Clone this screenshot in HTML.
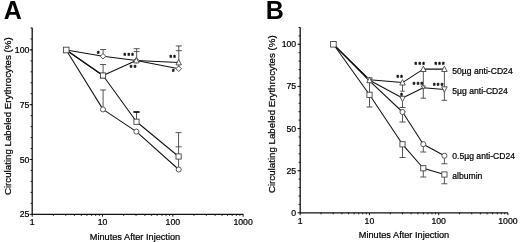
<!DOCTYPE html>
<html><head><meta charset="utf-8"><title>Figure</title>
<style>
html,body{margin:0;padding:0;background:#fff;}
body{width:520px;height:242px;overflow:hidden;}
svg{display:block;}
text{font-family:"Liberation Sans",Arial,Helvetica,sans-serif;fill:#000;stroke:#000;stroke-width:0.22px;}
.tk{font-size:8.7px;}
.lg{font-size:8.6px;}
.xl{font-size:9.2px;}
.yl{font-size:9.72px;}
.pl{font-size:25px;font-weight:bold;fill:#000;stroke:none;}
.ax{stroke:#111;stroke-width:1.3;fill:none;}
.t{stroke:#111;stroke-width:1;fill:none;}
.ln{stroke:#111;stroke-width:1.05;fill:none;stroke-linejoin:round;}
.eb{stroke:#444;stroke-width:0.9;fill:none;}
.mk{stroke:#444;stroke-width:0.9;fill:#fff;}
.st{font-size:6.5px;font-weight:bold;fill:#000;stroke:#000;stroke-width:0.35px;letter-spacing:1.32px;}
</style></head><body>
<svg width="520" height="242" viewBox="0 0 520 242">
<rect width="520" height="242" fill="#fff"/>

<text class="pl" x="3.7" y="18.6">A</text>
<path class="ax" d="M32.2 27.8V214.3H243.4"/>
<path class="t" d="M30.60 203.34H32.2M30.60 192.38H32.2M30.60 181.42H32.2M30.60 170.46H32.2M30.60 159.50H32.2M30.60 148.54H32.2M30.60 137.58H32.2M30.60 126.62H32.2M30.60 115.66H32.2M30.60 104.70H32.2M30.60 93.74H32.2M30.60 82.78H32.2M30.60 71.82H32.2M30.60 60.86H32.2M30.60 49.90H32.2M30.60 38.94H32.2M30.60 27.98H32.2M29.60 214.30H32.2M29.60 159.50H32.2M29.60 104.70H32.2M29.60 49.90H32.2M32.20 214.3V216.70M53.36 214.3V215.80M65.74 214.3V215.80M74.52 214.3V215.80M81.34 214.3V215.80M86.90 214.3V215.80M91.61 214.3V215.80M95.69 214.3V215.80M99.28 214.3V215.80M102.50 214.3V216.70M123.66 214.3V215.80M136.04 214.3V215.80M144.82 214.3V215.80M151.64 214.3V215.80M157.20 214.3V215.80M161.91 214.3V215.80M165.99 214.3V215.80M169.58 214.3V215.80M172.80 214.3V216.70M193.96 214.3V215.80M206.34 214.3V215.80M215.12 214.3V215.80M221.94 214.3V215.80M227.50 214.3V215.80M232.21 214.3V215.80M236.29 214.3V215.80M239.88 214.3V215.80M243.10 214.3V216.70"/>
<text class="tk" x="29.3" y="217.35" text-anchor="end">25</text>
<text class="tk" x="29.3" y="162.55" text-anchor="end">50</text>
<text class="tk" x="29.3" y="107.75" text-anchor="end">75</text>
<text class="tk" x="29.3" y="52.95" text-anchor="end">100</text>
<text class="tk" x="32.20" y="225.3" text-anchor="middle">1</text>
<text class="tk" x="102.50" y="225.3" text-anchor="middle">10</text>
<text class="tk" x="172.80" y="225.3" text-anchor="middle">100</text>
<text class="tk" x="243.10" y="225.3" text-anchor="middle">1000</text>
<text class="xl" x="135" y="239.7" text-anchor="middle">Minutes After Injection</text>
<text class="yl" transform="translate(11.4 116.2) rotate(-90)" text-anchor="middle">Circulating Labeled Erythrocytes (%)</text>
<path class="eb" d="M103.1 56.25V49.5M100.1 49.5H106.1"/>
<path class="eb" d="M103.1 75.5V64.5M100.1 64.5H106.1"/>
<path class="eb" d="M103.1 109.4V90M100.1 90H106.1"/>
<path class="eb" d="M136.65 60.5V48.7M133.65 48.7H139.65M133.65 51.6H139.65"/>
<path class="eb" d="M136.5 121.75V112M133.5 112H139.5"/>
<path d="M133.5 112H139.5" stroke="#111" stroke-width="1.6"/>
<path class="eb" d="M178.8 68.6V45.95M175.8 45.95H181.8M175.8 50.7H181.8"/>
<path class="eb" d="M178.55 169.9V132.6M175.55 132.6H181.55M175.55 146.8H181.55"/>
<path class="ln" d="M66.2 50L103 56.25L136.3 60.5L178.7 68.75"/>
<path class="ln" d="M66.2 50L103 75.5L136.3 60.5L178.7 62.5"/>
<path class="ln" d="M66.2 50L103 75.5L136.5 121.75L178.6 156.5"/>
<path class="ln" d="M66.2 50L103 109.4L136.4 131.6L178.7 169.5"/>
<rect class="mk" x="63.40" y="47.20" width="5.6" height="5.6"/>
<path class="mk" d="M103 53.45L105.8 56.25L103 59.05L100.2 56.25Z"/>
<path class="mk" d="M136.3 57.7L139.10000000000002 60.5L136.3 63.3L133.5 60.5Z"/>
<path class="mk" d="M178.7 65.95L181.5 68.75L178.7 71.55L175.89999999999998 68.75Z"/>
<path class="mk" d="M103 72.5L105.75 77.9L100.25 77.9Z"/>
<path class="mk" d="M136.3 57.5L139.05 62.9L133.55 62.9Z"/>
<path class="mk" d="M178.7 59.5L181.45 64.9L175.95 64.9Z"/>
<rect class="mk" x="100.40" y="72.90" width="5.2" height="5.2"/>
<rect class="mk" x="133.90" y="119.15" width="5.2" height="5.2"/>
<rect class="mk" x="176.00" y="153.90" width="5.2" height="5.2"/>
<circle class="mk" cx="103" cy="109.4" r="2.55"/>
<circle class="mk" cx="136.4" cy="131.6" r="2.55"/>
<circle class="mk" cx="178.7" cy="169.5" r="2.55"/>
<text class="st" x="96.91" y="55.60">*</text>
<text class="st" x="123.61" y="57.90">***</text>
<text class="st" x="129.81" y="69.50">**</text>
<text class="st" x="169.41" y="59.80">**</text>
<text class="st" x="172.01" y="73.90">*</text>
<text class="pl" x="265.8" y="18.8">B</text>
<path class="ax" d="M300.2 27.2V212.8H508"/>
<path class="t" d="M298.60 204.38H300.2M298.60 195.95H300.2M298.60 187.53H300.2M298.60 179.10H300.2M298.60 170.68H300.2M298.60 162.25H300.2M298.60 153.83H300.2M298.60 145.40H300.2M298.60 136.98H300.2M298.60 128.55H300.2M298.60 120.13H300.2M298.60 111.70H300.2M298.60 103.28H300.2M298.60 94.85H300.2M298.60 86.43H300.2M298.60 78.00H300.2M298.60 69.58H300.2M298.60 61.15H300.2M298.60 52.72H300.2M298.60 44.30H300.2M298.60 35.88H300.2M298.60 27.45H300.2M297.60 212.80H300.2M297.60 170.68H300.2M297.60 128.55H300.2M297.60 86.43H300.2M297.60 44.30H300.2M300.20 212.8V215.20M321.05 212.8V214.30M333.24 212.8V214.30M341.89 212.8V214.30M348.60 212.8V214.30M354.09 212.8V214.30M358.72 212.8V214.30M362.74 212.8V214.30M366.28 212.8V214.30M369.45 212.8V215.20M390.30 212.8V214.30M402.49 212.8V214.30M411.14 212.8V214.30M417.85 212.8V214.30M423.34 212.8V214.30M427.97 212.8V214.30M431.99 212.8V214.30M435.53 212.8V214.30M438.70 212.8V215.20M459.55 212.8V214.30M471.74 212.8V214.30M480.39 212.8V214.30M487.10 212.8V214.30M492.59 212.8V214.30M497.22 212.8V214.30M501.24 212.8V214.30M504.78 212.8V214.30M507.95 212.8V215.20"/>
<text class="tk" x="296.2" y="215.80" text-anchor="end">0</text>
<text class="tk" x="296.2" y="173.68" text-anchor="end">25</text>
<text class="tk" x="296.2" y="131.55" text-anchor="end">50</text>
<text class="tk" x="296.2" y="89.43" text-anchor="end">75</text>
<text class="tk" x="296.2" y="47.30" text-anchor="end">100</text>
<text class="tk" x="300.20" y="223.9" text-anchor="middle">1</text>
<text class="tk" x="369.45" y="223.9" text-anchor="middle">10</text>
<text class="tk" x="438.70" y="223.9" text-anchor="middle">100</text>
<text class="tk" x="507.95" y="223.9" text-anchor="middle">1000</text>
<text class="xl" x="404" y="237.5" text-anchor="middle">Minutes After Injection</text>
<text class="yl" transform="translate(275.4 114.2) rotate(-90)" text-anchor="middle">Circulating Labeled Erythrocytes (%)</text>
<path class="eb" d="M369.5 80V107M366.5 107H372.5"/>
<path class="eb" d="M402.5 82.6V91.2M400.2 91.2H404.8"/>
<path class="eb" d="M402.5 98.5V107.5M399.5 107.5H405.5"/>
<path class="eb" d="M402.5 112V122M399.5 122H405.5"/>
<path class="eb" d="M402.5 144.3V157.5M399.5 157.5H405.5"/>
<path class="eb" d="M423.3 69.3V98.2M420.6 98.2H426.0"/>
<path class="eb" d="M444.4 69.3V100.3M441.7 100.3H447.09999999999997"/>
<path class="eb" d="M423.3 144.2V152M420.3 152H426.3"/>
<path class="eb" d="M444.4 155.75V163.75M441.4 163.75H447.4"/>
<path class="eb" d="M423.3 168.25V177M420.3 177H426.3"/>
<path class="eb" d="M444.4 174.5V183.75M441.4 183.75H447.4"/>
<path class="ln" d="M333.4 44.3L369.5 79.7L402.5 82.6L423.3 69.1L444.4 69.1"/>
<path class="ln" d="M333.4 44.3L369.5 80.2L402.5 98L423.3 87.7L444.4 89.4"/>
<path class="ln" d="M333.4 44.3L369.5 80.9L402.5 112L423.3 144.2L444.4 155.75"/>
<path class="ln" d="M333.4 44.3L369.5 94.8L402.5 144.3L423.3 168.25L444.4 174.5"/>
<rect class="mk" x="330.60" y="41.50" width="5.6" height="5.6"/>
<path class="mk" d="M369.5 83.2L372.25 77.8L366.75 77.8Z"/>
<path class="mk" d="M369.5 77.3L372.25 82.7L366.75 82.7Z"/>
<rect class="mk" x="366.90" y="92.20" width="5.2" height="5.2"/>
<path class="mk" d="M402.5 79.6L405.25 85.0L399.75 85.0Z"/>
<path class="mk" d="M402.5 101.7L405.25 96.3L399.75 96.3Z"/>
<circle class="mk" cx="402.5" cy="112" r="2.55"/>
<rect class="mk" x="399.90" y="141.70" width="5.2" height="5.2"/>
<path class="mk" d="M423.3 66.1L426.05 71.5L420.55 71.5Z"/>
<path class="mk" d="M423.3 89.3L425.3 85.89999999999999L421.3 85.89999999999999Z"/>
<circle class="mk" cx="423.3" cy="144.2" r="2.55"/>
<rect class="mk" x="420.70" y="165.65" width="5.2" height="5.2"/>
<path class="mk" d="M444.4 66.1L447.15 71.5L441.65 71.5Z"/>
<path class="mk" d="M444.4 92.2L447.15 86.8L441.65 86.8Z"/>
<circle class="mk" cx="444.4" cy="155.75" r="2.55"/>
<rect class="mk" x="441.80" y="171.90" width="5.2" height="5.2"/>
<text class="st" x="396.51" y="80.40">**</text>
<text class="st" x="414.61" y="66.70">***</text>
<text class="st" x="434.41" y="66.70">***</text>
<text class="st" x="400.36" y="97.90">*</text>
<text class="st" x="412.81" y="86.70">***</text>
<text class="st" x="433.01" y="87.65">***</text>
<text class="lg" x="452.3" y="74.2">50µg anti-CD24</text>
<text class="lg" x="452.3" y="94.1">5µg anti-CD24</text>
<text class="lg" x="452.3" y="159.3">0.5µg anti-CD24</text>
<text class="lg" x="452.3" y="178.8">albumin</text>
</svg></body></html>
